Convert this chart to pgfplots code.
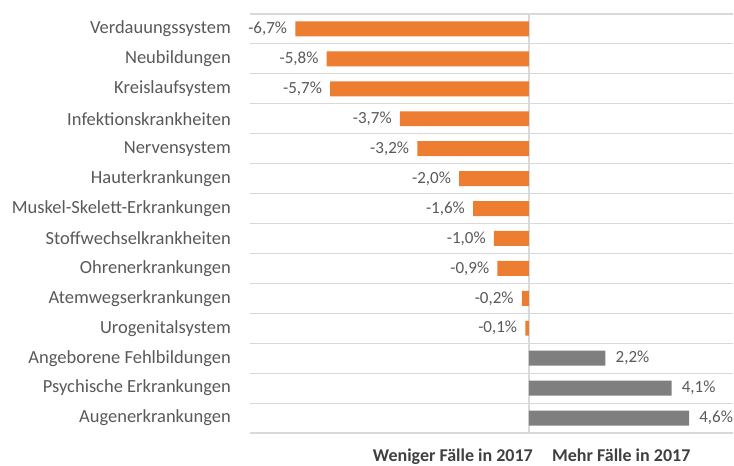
\documentclass[border=0pt]{standalone}
\usepackage{pgfplots}
\pgfplotsset{compat=1.18}
\usepackage{fontspec}
\setmainfont{Carlito}
\definecolor{orangebar}{HTML}{ED7D31}
\definecolor{graybar}{HTML}{7F7F7F}
\definecolor{gridc}{HTML}{D9D9D9}
\definecolor{labc}{HTML}{595959}
\definecolor{darkc}{HTML}{404040}
\begin{document}
\begin{tikzpicture}
\useasboundingbox (0,0) rectangle (734bp,466bp);
\begin{axis}[
  at={(250bp,33bp)}, anchor=south west,
  scale only axis, width=483bp, height=419bp,
  xmin=-8, xmax=5.86, ymin=-0.5, ymax=13.5, y dir=reverse,
  xbar, bar width=0.5, bar shift=0pt,
  axis line style={draw=none},
  xtick=\empty,
  ytick={0,...,13},
  yticklabels={Verdauungssystem,Neubildungen,Kreislaufsystem,Infektionskrankheiten,Nervensystem,Hauterkrankungen,Muskel-Skelett-Erkrankungen,Stoffwechselkrankheiten,Ohrenerkrankungen,Atemwegserkrankungen,Urogenitalsystem,Angeborene Fehlbildungen,Psychische Erkrankungen,Augenerkrankungen},
  minor ytick={-0.5,0.5,...,13.5},
  yminorgrids=true,
  minor grid style={gridc, line width=1.1bp},
  major tick length=0pt, minor tick length=0pt,
  yticklabel style={font=\fontsize{18.5bp}{20bp}\selectfont, text=labc, inner sep=0pt, xshift=-19bp},
  point meta=x,
  nodes near coords={\pgfmathprintnumber{\pgfplotspointmeta}\%},
  every node near coord/.append style={font=\fontsize{17bp}{19bp}\selectfont, text=labc, inner ysep=3bp,
    /pgf/number format/use comma, /pgf/number format/fixed, /pgf/number format/fixed zerofill,
    /pgf/number format/precision=1, /pgf/number format/assume math mode=true},
  clip=false,
]
\draw[gridc, line width=1.5bp] (axis cs:0,-0.5) -- (axis cs:0,13.5);
\addplot[fill=orangebar, draw=none, every node near coord/.append style={anchor=east, inner xsep=8bp}] coordinates {
  (-6.7,0) (-5.8,1) (-5.7,2) (-3.7,3) (-3.2,4) (-2.0,5) (-1.6,6) (-1.0,7) (-0.9,8) (-0.2,9) (-0.1,10)
};
\addplot[fill=graybar, draw=none, every node near coord/.append style={anchor=west, inner xsep=10bp}] coordinates {
  (2.2,11) (4.1,12) (4.6,13)
};
\end{axis}
\node[anchor=base east, inner sep=0pt, font=\bfseries\fontsize{18bp}{20bp}\selectfont, text=darkc] at (533bp,4.5bp) {Weniger Fälle in 2017};
\node[anchor=base west, inner sep=0pt, font=\bfseries\fontsize{18bp}{20bp}\selectfont, text=darkc] at (552bp,4.5bp) {Mehr Fälle in 2017};
\end{tikzpicture}
\end{document}
